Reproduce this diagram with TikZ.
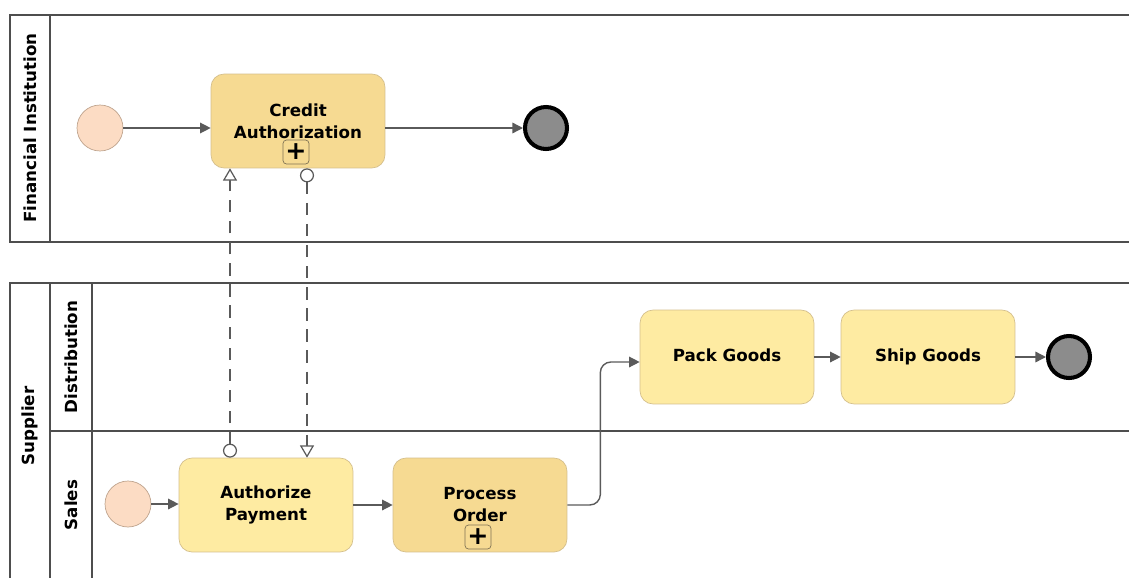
\documentclass[tikz,border=0pt]{standalone}
\usepackage{fontspec}
\setmainfont{DejaVu Sans}
\usepackage{xcolor}
\usetikzlibrary{arrows.meta}

\definecolor{lanegray}{HTML}{4E4E4E}
\definecolor{peach}{HTML}{FCDCC4}
\definecolor{peachline}{HTML}{BFA48E}
\definecolor{subgold}{HTML}{F6DA92}
\definecolor{taskyellow}{HTML}{FEEBA2}
\definecolor{taskline}{HTML}{D4BF8C}
\definecolor{flowgray}{HTML}{5A5A5A}
\definecolor{endgray}{HTML}{8C8C8C}

\begin{document}
\begin{tikzpicture}[x=0.02cm, y=-0.02cm,
  font=\bfseries\fontsize{9.5}{12.5}\selectfont,
  lane/.style={draw=lanegray, line width=1.6pt},
  startev/.style={circle, draw=peachline, fill=peach, minimum size=0.92cm, inner sep=0pt},
  endev/.style={circle, draw=black, line width=2.3pt, fill=endgray, minimum size=0.84cm, inner sep=0pt},
  task/.style={rounded corners=0.26cm, draw=taskline, fill=taskyellow, minimum width=3.48cm, minimum height=1.88cm, align=center, inner sep=2pt},
  subtask/.style={task, fill=subgold},
  marker/.style={rounded corners=2pt, draw=taskline!60!black, fill=subgold, minimum width=0.52cm, minimum height=0.48cm, inner sep=0pt, font=\bfseries\Large},
  seq/.style={draw=flowgray, line width=0.8pt, -{Triangle[length=6pt, width=6pt]}},
  msg/.style={draw=flowgray, line width=0.7pt, dash pattern=on 7pt off 5pt,
    {Circle[open, length=8pt, width=8pt, fill=white]}-{Triangle[open, length=7pt, width=8pt, fill=white]}}
]
\useasboundingbox (0,0) rectangle (1129,578);
\clip (0,0) rectangle (1129,578);

% pools and lanes
\draw[lane] (1140,15) -- (10,15) -- (10,242) -- (1140,242);
\draw[lane] (50,15) -- (50,242);
\draw[lane] (1140,283) -- (10,283) -- (10,600);
\draw[lane] (50,283) -- (50,600);
\draw[lane] (92,283) -- (92,600);
\draw[lane] (50,431) -- (1140,431);

\node[rotate=90] (filabel) at (30,128) {Financial Institution};
\node[rotate=90] (suplabel) at (30,426) {Supplier};
\node[rotate=90] (distlabel) at (71,357) {Distribution};
\node[rotate=90] (saleslabel) at (71,505) {Sales};

% financial institution
\node[startev] (fistart) at (100,128) {};
\node[subtask] (credit) at (298,121) {Credit\\Authorization};
\node[marker] (creditplus) at (296,152) {+};
\node[endev] (fiend) at (546,128) {};

% supplier
\node[startev] (sstart) at (128,504) {};
\node[task] (authorize) at (266,505) {Authorize\\Payment};
\node[subtask] (process) at (480,505) {Process\\Order};
\node[marker] (processplus) at (478,537) {+};
\node[task] (pack) at (727,357) {Pack Goods\strut};
\node[task] (ship) at (928,357) {Ship Goods\strut};
\node[endev] (send) at (1069,357) {};

\draw[seq] (fistart) -- (fistart -| credit.west);
\draw[seq] (credit.east |- fiend) -- (fiend);
\draw[seq] (sstart) -- (sstart -| authorize.west);
\draw[seq] (authorize) -- (process);
\draw[seq, rounded corners=6pt] (process.east) -- ++(33,0) |- ([yshift=-0.1cm]pack.west);
\draw[seq] (pack) -- (ship);
\draw[seq] (ship) -- (send);

% message flows
\coordinate (msgA) at (230,300);
\coordinate (msgB) at (307,300);
\draw[msg] (authorize.north -| msgA) -- (credit.south -| msgA);
\draw[msg] (credit.south -| msgB) -- (authorize.north -| msgB);
\end{tikzpicture}
\end{document}
